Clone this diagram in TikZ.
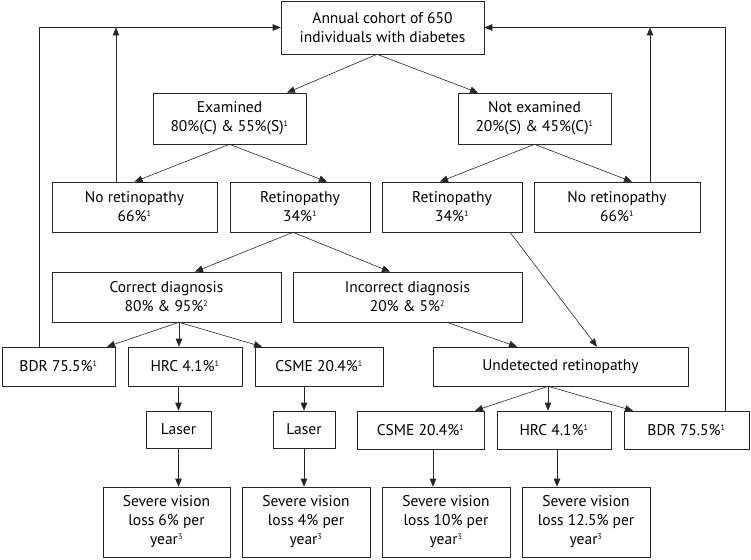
\documentclass[tikz,border=0pt]{standalone}
\usepackage{fontspec}
\setmainfont{PT Sans}
\usetikzlibrary{arrows.meta,calc}
\newcommand\smallsup[1]{\textsuperscript{\fontsize{8}{8}\selectfont #1}}
\begin{document}
\begin{tikzpicture}[x=1pt,y=-1pt,
  box/.style={draw=black!85, line width=0.6pt, align=center, inner sep=0pt, font=\fontsize{15.5}{19}\selectfont},
  arr/.style={draw=black!85, line width=0.6pt, -{Triangle[length=8pt,width=6.5pt]}}]
\useasboundingbox (0,0) rectangle (751,559);
% row 0
\node[box, minimum width=203pt, minimum height=53pt] (top) at (382.5,27.5) {Annual cohort of 650\\individuals with diabetes};
% row 1
\node[box, minimum width=153pt, minimum height=51pt] (exam) at (229.5,118.5) {Examined\\80\%(C) \& 55\%(S)\smallsup{1}};
\node[box, minimum width=153pt, minimum height=51pt] (notexam) at (534.5,118.5) {Not examined\\20\%(S) \& 45\%(C)\smallsup{1}};
% row 2
\node[box, minimum width=165pt, minimum height=50pt] (noretL) at (134.5,207) {No retinopathy\\66\%\smallsup{1}};
\node[box, minimum width=140pt, minimum height=50pt] (retL) at (300,207) {Retinopathy\\34\%\smallsup{1}};
\node[box, minimum width=140pt, minimum height=50pt] (retR) at (452,207) {Retinopathy\\34\%\smallsup{1}};
\node[box, minimum width=166pt, minimum height=50pt] (noretR) at (617,207) {No retinopathy\\66\%\smallsup{1}};
% row 3
\node[box, minimum width=229pt, minimum height=50pt] (correct) at (166.5,297) {Correct diagnosis\\80\% \& 95\%\smallsup{2}};
\node[box, minimum width=229pt, minimum height=50pt] (incorrect) at (407.5,297) {Incorrect diagnosis\\20\% \& 5\%\smallsup{2}};
% row 4
\node[box, minimum width=113pt, minimum height=39pt] (bdrL) at (58.5,366.5) {BDR 75.5\%\smallsup{1}};
\node[box, minimum width=114pt, minimum height=39pt] (hrcL) at (185,366.5) {HRC 4.1\%\smallsup{1}};
\node[box, minimum width=128pt, minimum height=39pt] (csmeL) at (319,366.5) {CSME 20.4\%\smallsup{1}};
\node[box, minimum width=255pt, minimum height=39pt] (undet) at (560.5,366.5) {Undetected retinopathy};
% row 5
\node[box, minimum width=65pt, minimum height=37pt] (laser1) at (178.5,429.5) {Laser};
\node[box, minimum width=62pt, minimum height=37pt] (laser2) at (304,429.5) {Laser};
\node[box, minimum width=127pt, minimum height=38pt] (csmeR) at (420.5,430) {CSME 20.4\%\smallsup{1}};
\node[box, minimum width=114pt, minimum height=38pt] (hrcR) at (554,430) {HRC 4.1\%\smallsup{1}};
\node[box, minimum width=125pt, minimum height=38pt] (bdrR) at (686.5,430) {BDR 75.5\%\smallsup{1}};
% row 6
\node[box, minimum width=127pt, minimum height=70pt] (sev1) at (166.5,522) {Severe vision\\loss 6\% per\\year\smallsup{3}};
\node[box, minimum width=128pt, minimum height=70pt] (sev2) at (306,522) {Severe vision\\loss 4\% per\\year\smallsup{3}};
\node[box, minimum width=128pt, minimum height=70pt] (sev3) at (446,522) {Severe vision\\loss 10\% per\\year\smallsup{3}};
\node[box, minimum width=128pt, minimum height=70pt] (sev4) at (586,522) {Severe vision\\loss 12.5\% per\\year\smallsup{3}};
% connectors
\draw[arr] ([xshift=-5.5pt]top.south) -- ([xshift=57.5pt]exam.north);
\draw[arr] ([xshift=-5.5pt]top.south) -- ([xshift=-56.5pt]notexam.north);
\draw[arr] (exam.south) -- (noretL.north);
\draw[arr] (exam.south) -- ([xshift=27pt]retL.north);
\draw[arr] (notexam.south) -- ([xshift=-12pt]retR.north);
\draw[arr] (notexam.south) -- ([xshift=15pt]noretR.north);
\draw[arr] ([xshift=-7pt]retL.south) -- ([xshift=28.5pt]correct.north);
\draw[arr] ([xshift=-7pt]retL.south) -- ([xshift=-17.5pt]incorrect.north);
\draw[arr] ([xshift=58pt]retR.south) -- ([xshift=36.5pt]undet.north);
\draw[arr] ([xshift=39.5pt]incorrect.south) -- ([xshift=-43.5pt]undet.north);
\draw[arr] ([xshift=12.5pt]correct.south) -- ([xshift=48.5pt]bdrL.north);
\draw[arr] ([xshift=12.5pt]correct.south) -- ([xshift=-6pt]hrcL.north);
\draw[arr] ([xshift=12.5pt]correct.south) -- ([xshift=-57pt]csmeL.north);
\draw[arr] (laser1.north |- hrcL.south) -- (laser1.north);
\draw[arr] (laser2.north |- csmeL.south) -- (laser2.north);
\draw[arr] (laser1.south) -- (laser1.south |- sev1.north);
\draw[arr] (laser2.south) -- (laser2.south |- sev2.north);
\draw[arr] ([xshift=-12.5pt]undet.south) -- ([xshift=54.5pt]csmeR.north);
\draw[arr] ([xshift=-12.5pt]undet.south) -- ([xshift=-6pt]hrcR.north);
\draw[arr] ([xshift=-12.5pt]undet.south) -- ([xshift=-53.5pt]bdrR.north);
\draw[arr] ([xshift=12.5pt]csmeR.south) coordinate (c1) -- (c1 |- sev3.north);
\draw[arr] ([xshift=3pt]hrcR.south) coordinate (c2) -- (c2 |- sev4.north);
% feedback loops
\draw[arr] ([xshift=-19.5pt]bdrL.north) |- (top.west);
\draw[arr] ([xshift=-18.5pt]noretL.north) coordinate (f1) -- (f1 |- top.west);
\draw[arr] ([xshift=38.5pt]bdrR.north) |- (top.east);
\draw[arr] ([xshift=33pt]noretR.north) coordinate (f2) -- (f2 |- top.east);
\end{tikzpicture}
\end{document}
